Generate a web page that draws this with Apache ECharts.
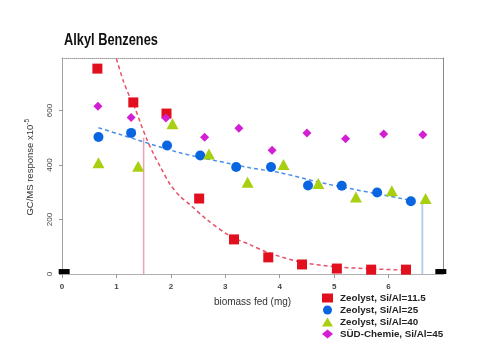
<!DOCTYPE html>
<html>
<head>
<meta charset="utf-8">
<script src="https://cdn.jsdelivr.net/npm/echarts@6/dist/echarts.min.js"></script>
<style>html,body{margin:0;padding:0;background:#fff;}#c{width:480px;height:360px;}</style>
</head>
<body>
<div id="c"></div>
<script>
// ---- data ----
var titleText = 'Alkyl Benzenes';
var seriesNames = ['Zeolyst, Si/Al=11.5', 'Zeolyst, Si/Al=25', 'Zeolyst, Si/Al=40', 'SÜD-Chemie, Si/Al=45'];
var redX = [0.65, 1.31, 1.92, 2.52, 3.16, 3.79, 4.41, 5.05, 5.68, 6.32];
var redY = [754, 630, 589, 277, 127, 61, 35, 20, 16, 16];
var blueX = [0.67, 1.27, 1.93, 2.54, 3.20, 3.84, 4.52, 5.14, 5.79, 6.41];
var blueY = [503, 518, 472, 435, 393, 393, 325, 324, 299, 267];
var greenX = [0.67, 1.40, 2.03, 2.70, 3.41, 4.07, 4.71, 5.40, 6.06, 6.68];
var greenY = [408, 396, 552, 441, 337, 402, 332, 283, 306, 277];
var magX = [0.66, 1.27, 1.91, 2.62, 3.25, 3.86, 4.50, 5.21, 5.91, 6.63];
var magY = [616, 575, 573, 502, 535, 454, 518, 497, 514, 511];
// fitted curves as drawn in the reference
var redFitX = [1.0, 1.13, 1.25, 1.35, 1.44, 1.56, 1.68, 1.80, 1.99, 2.17, 2.35, 2.66, 3.09, 3.45, 3.79, 4.41, 5.05, 5.68, 6.32];
var redFitY = [790, 707, 647, 604, 555, 494, 441, 396, 328, 285, 255, 200, 139, 108, 78, 43, 26, 19, 14];
var blueFitX = [0.67, 1.07, 2.17, 3.09, 3.45, 4.0, 4.86, 6.4];
var blueFitY = [537, 512, 445, 405, 390, 372, 331, 271];
// marker lines
var redVLineX = [1.5, 1.5];
var redVLineY = [0, 500];
var blueVLineX = [6.62, 6.62];
var blueVLineY = [0, 259];
var blackMarkX = [0.04, 6.96];
var blackMarkY = [9, 9];
var xTicks = [0, 1, 2, 3, 4, 5, 6];
var yTicks = [0, 200, 400, 600];

function zip(xs, ys) { return xs.map(function (x, i) { return [x, ys[i]]; }); }

var chart = echarts.init(document.getElementById('c'), null, { renderer: 'canvas' });
var font = 'Liberation Sans, Arial, sans-serif';
var red = '#e2101f', blue = '#0a66e0', green = '#a8d010', mag = '#d41ed4';

chart.setOption({
  animation: false,
  backgroundColor: '#fff',
  grid: { left: 62, right: 37, top: 58, bottom: 86 },
  legend: {
    orient: 'vertical', left: 317, top: 288,
    itemWidth: 11, itemHeight: 9, itemGap: 2,
    data: seriesNames,
    textStyle: { fontFamily: font, fontWeight: 'bold', fontSize: 9.8, color: '#222', padding: [0, 0, 0, 2] }
  },
  graphic: [{
    type: 'text', x: 64, y: 33, scaleX: 0.8, scaleY: 1,
    style: { text: titleText, fontFamily: font, fontWeight: 'bold', fontSize: 16, fill: '#111' }
  }, {
    type: 'text', left: 24, top: 119,
    rotation: Math.PI / 2,
    style: {
      text: 'GC/MS response x10{s|-5}',
      fontFamily: font, fontSize: 9.5, fill: '#333',
      rich: { s: { fontSize: 6.5, verticalAlign: 'top', padding: [0, 0, 6, 0], fill: '#333', fontFamily: font } }
    }
  }],
  xAxis: [{
    type: 'value', min: 0, max: 7, interval: 1,
    name: 'biomass fed (mg)', nameLocation: 'middle', nameGap: 23,
    nameTextStyle: { fontFamily: font, fontSize: 10, color: '#333' },
    axisLine: { lineStyle: { color: '#b0b0b0', width: 1 } },
    axisTick: { show: true, length: 4, lineStyle: { color: '#999' } },
    axisLabel: { fontFamily: font, fontSize: 8, fontWeight: 'bold', color: '#444', margin: 9, showMaxLabel: false,
      formatter: function (v) { return xTicks.indexOf(v) >= 0 ? String(v) : ''; } },
    splitLine: { show: false }
  }, {
    type: 'value', min: 0, max: 7, position: 'top',
    axisLine: { show: true, onZero: false, lineStyle: { color: '#9a9a9a', type: [1, 1], width: 1 } },
    axisTick: { show: false }, axisLabel: { show: false }, splitLine: { show: false }
  }],
  yAxis: [{
    type: 'value', min: 0, max: 793, interval: 200,
    axisLine: { show: true, lineStyle: { color: '#a0a0a0', width: 1 } },
    axisTick: { show: true, length: 3, lineStyle: { color: '#999' } },
    axisLabel: { rotate: 90, fontFamily: font, fontSize: 8, color: '#444', margin: 8, showMaxLabel: false,
      formatter: function (v) { return yTicks.indexOf(v) >= 0 ? String(v) : ''; } },
    splitLine: { show: false }
  }, {
    type: 'value', min: 0, max: 793, position: 'right',
    axisLine: { show: true, onZero: false, lineStyle: { color: '#8a8a8a', width: 1 } },
    axisTick: { show: false }, axisLabel: { show: false }, splitLine: { show: false }
  }],
  series: [
    { type: 'line', data: zip(redVLineX, redVLineY), symbol: 'none', silent: true,
      lineStyle: { color: '#f0a0b0', width: 1.5 }, z: 1 },
    { type: 'line', data: zip(blueVLineX, blueVLineY), symbol: 'none', silent: true,
      lineStyle: { color: '#b8d0ec', width: 2 }, z: 1 },
    { type: 'line', data: zip(redFitX, redFitY), symbol: 'none', smooth: 0.3, silent: true,
      lineStyle: { color: '#e8506a', width: 1.5, type: [4, 3] }, z: 2 },
    { type: 'line', data: zip(blueFitX, blueFitY), symbol: 'none', smooth: 0.3, silent: true,
      lineStyle: { color: '#4a90e4', width: 1.5, type: [4, 3] }, z: 2 },
    { name: seriesNames[0], type: 'scatter', data: zip(redX, redY), symbol: 'rect', symbolSize: 10,
      itemStyle: { color: red, opacity: 1 }, z: 5 },
    { name: seriesNames[1], type: 'scatter', data: zip(blueX, blueY), symbol: 'circle', symbolSize: 10,
      itemStyle: { color: blue, opacity: 1 }, z: 5 },
    { name: seriesNames[2], type: 'scatter', data: zip(greenX, greenY), symbol: 'triangle', symbolSize: [12, 11],
      itemStyle: { color: green, opacity: 1 }, z: 5 },
    { name: seriesNames[3], type: 'scatter', data: zip(magX, magY), symbol: 'diamond', symbolSize: [9, 9],
      itemStyle: { color: mag, opacity: 1 }, z: 5 },
    { type: 'scatter', data: zip(blackMarkX, blackMarkY), symbol: 'rect', symbolSize: [11, 5], silent: true,
      itemStyle: { color: '#000', opacity: 1 }, z: 6 }
  ]
});
</script>
</body>
</html>
